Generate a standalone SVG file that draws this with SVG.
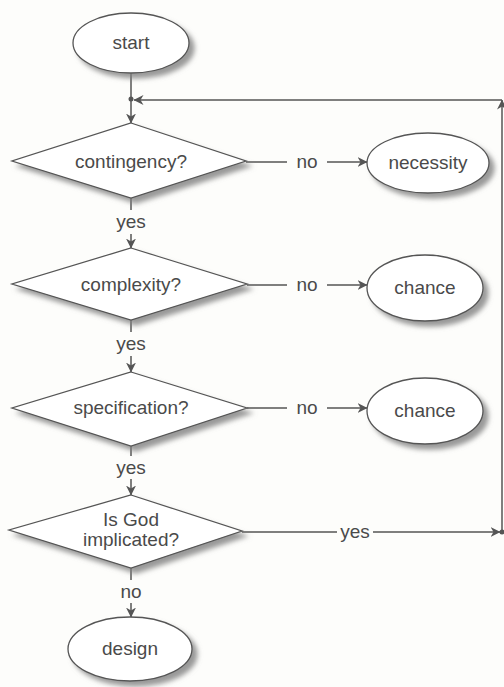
<svg xmlns="http://www.w3.org/2000/svg" width="504" height="687" viewBox="0 0 504 687">
<defs>
<filter id="sh" x="-10%" y="-10%" width="130%" height="140%">
<feGaussianBlur in="SourceAlpha" stdDeviation="2.5"/>
<feOffset dx="5" dy="5" result="b"/>
<feFlood flood-color="#808080" flood-opacity="0.8"/>
<feComposite in2="b" operator="in" result="s"/>
<feMerge><feMergeNode in="s"/><feMergeNode in="SourceGraphic"/></feMerge>
</filter>
<marker id="arr" viewBox="0 0 10 10" refX="9.5" refY="5" markerWidth="10" markerHeight="10" markerUnits="userSpaceOnUse" orient="auto">
<path d="M0,0 L10,5 L0,10 L3,5 Z" fill="#555"/>
</marker>
</defs>
<style>
.shape{fill:#fff;stroke:#555;stroke-width:1.3;filter:url(#sh)}
.ln{fill:none;stroke:#555;stroke-width:1.5}
.t{font-family:"Liberation Sans",Arial,sans-serif;font-size:19px;fill:#4a4a4a;text-anchor:middle}
</style>
<rect width="504" height="687" fill="#fdfdfb"/>
<g id="connectors">
<line class="ln" x1="131" y1="73" x2="131" y2="123" marker-end="url(#arr)"/>
<circle cx="131" cy="99" r="2.5" fill="#555"/>
<line class="ln" x1="502" y1="100" x2="134" y2="100" marker-end="url(#arr)"/>
<line class="ln" x1="502" y1="532" x2="502" y2="100" marker-end="url(#arr)"/>
<circle cx="502" cy="532" r="2.5" fill="#555"/>
<line class="ln" x1="246" y1="162" x2="287" y2="162"/>
<text class="t" x="307" y="168">no</text>
<line class="ln" x1="327" y1="162" x2="367" y2="162" marker-end="url(#arr)"/>
<line class="ln" x1="247" y1="285" x2="287" y2="285"/>
<text class="t" x="307" y="291">no</text>
<line class="ln" x1="327" y1="285" x2="367" y2="285" marker-end="url(#arr)"/>
<line class="ln" x1="247" y1="408" x2="287" y2="408"/>
<text class="t" x="307" y="414">no</text>
<line class="ln" x1="327" y1="408" x2="367" y2="408" marker-end="url(#arr)"/>
<line class="ln" x1="242" y1="532" x2="337" y2="532"/>
<text class="t" x="355" y="538">yes</text>
<line class="ln" x1="373" y1="532" x2="500" y2="532" marker-end="url(#arr)"/>
<line class="ln" x1="131" y1="198" x2="131" y2="210"/>
<text class="t" x="131" y="228">yes</text>
<line class="ln" x1="131" y1="234" x2="131" y2="248" marker-end="url(#arr)"/>
<line class="ln" x1="131" y1="320" x2="131" y2="332"/>
<text class="t" x="131" y="350">yes</text>
<line class="ln" x1="131" y1="356" x2="131" y2="372" marker-end="url(#arr)"/>
<line class="ln" x1="131" y1="446" x2="131" y2="456"/>
<text class="t" x="131" y="474">yes</text>
<line class="ln" x1="131" y1="479" x2="131" y2="495" marker-end="url(#arr)"/>
<line class="ln" x1="131" y1="568" x2="131" y2="580"/>
<text class="t" x="131" y="598">no</text>
<line class="ln" x1="131" y1="603" x2="131" y2="617" marker-end="url(#arr)"/>
</g>
<g id="start">
<ellipse class="shape" cx="131" cy="43" rx="58" ry="30"/>
<text class="t" x="131" y="49">start</text>
</g>
<g id="contingency">
<polygon class="shape" points="131,123 246,161 131,198 12,161"/>
<text class="t" x="131" y="168">contingency?</text>
</g>
<g id="necessity">
<ellipse class="shape" cx="428" cy="163" rx="61" ry="30"/>
<text class="t" x="428" y="169">necessity</text>
</g>
<g id="complexity">
<polygon class="shape" points="131,248 247,284 131,320 12,284"/>
<text class="t" x="131" y="291">complexity?</text>
</g>
<g id="chance1">
<ellipse class="shape" cx="425" cy="288" rx="58" ry="33"/>
<text class="t" x="425" y="294">chance</text>
</g>
<g id="specification">
<polygon class="shape" points="131,372 247,408 131,446 12,408"/>
<text class="t" x="131" y="414">specification?</text>
</g>
<g id="chance2">
<ellipse class="shape" cx="425" cy="411" rx="58" ry="33"/>
<text class="t" x="425" y="417">chance</text>
</g>
<g id="god">
<polygon class="shape" points="131,495 242,531 131,568 9,530"/>
<text class="t" x="131" y="526">Is God</text>
<text class="t" x="131" y="546">implicated?</text>
</g>
<g id="design">
<ellipse class="shape" cx="130" cy="649" rx="62" ry="32"/>
<text class="t" x="130" y="655">design</text>
</g>
</svg>
